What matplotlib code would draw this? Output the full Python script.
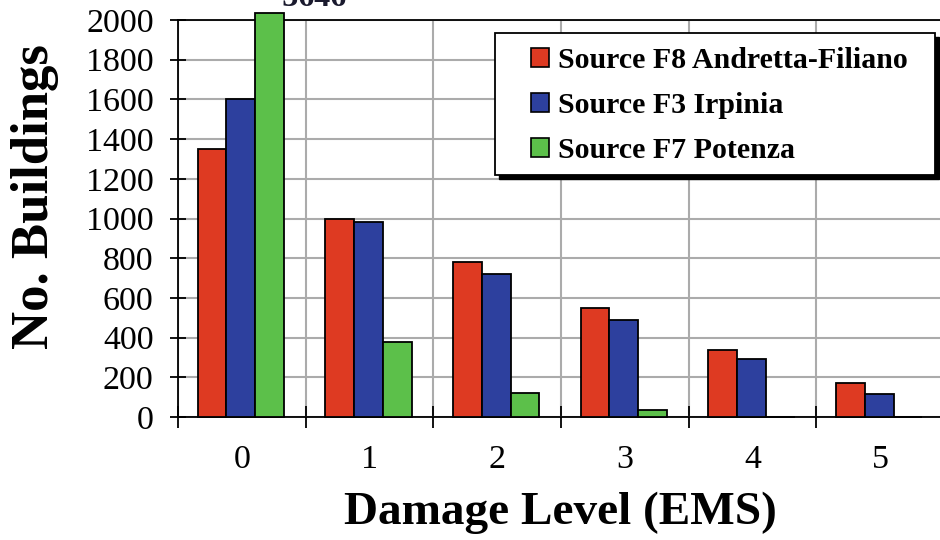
import numpy as np
import matplotlib
matplotlib.use("Agg")
import matplotlib.pyplot as plt
from matplotlib.patches import Rectangle, Patch

categories = [0, 1, 2, 3, 4, 5]
series_names = ["Source F8 Andretta-Filiano", "Source F3 Irpinia", "Source F7 Potenza"]
f8_vals = [1350, 1000, 780, 550, 340, 170]
f3_vals = [1600, 980, 720, 490, 290, 115]
f7_vals = [3646, 380, 120, 35, 0, 0]
y_ticks = [0, 200, 400, 600, 800, 1000, 1200, 1400, 1600, 1800, 2000]
overflow_label = "= 3646"

colors = ["#DE3A22", "#2D409E", "#5CC04A"]
YMAX = 2000
YCAP = 2035  # drawn height for the overflowing bar

plt.rcParams['font.family'] = ['Liberation Serif', 'DejaVu Serif']

fig = plt.figure(figsize=(9.4, 5.4), dpi=100)
W, H = 940, 540
ax = fig.add_axes([178 / W, 1 - 417 / H, 766 / W, 397 / H])

x = np.arange(len(categories))
width = 0.225
offsets = [-width, 0, width]
for vals, off, c in zip([f8_vals, f3_vals, f7_vals], offsets, colors):
    v = np.asarray(vals, dtype=float)
    disp = np.minimum(v, YCAP)
    ax.bar(x + off - 0.008, disp, width=width, color=c, edgecolor="black",
           linewidth=1.3, zorder=3, clip_on=False)

ax.set_xlim(-0.5, len(categories) - 0.5)
ax.set_ylim(0, YMAX)
ax.set_yticks(y_ticks)
ax.set_yticklabels([str(t) for t in y_ticks])
ax.set_xticks(x)
ax.set_xticklabels([str(c) for c in categories])
ax.set_xticks(np.arange(-0.5, len(categories), 1.0), minor=True)

ax.tick_params(axis='x', which='major', length=0, pad=20, labelsize=24.5)
ax.tick_params(axis='x', which='minor', direction='inout', length=16, width=1.3)
ax.tick_params(axis='y', which='major', direction='inout', length=11, width=1.3,
               pad=12, labelsize=24.5)

ax.grid(True, axis='y', which='major', color='#ababab', linewidth=1.5, zorder=0)
ax.grid(True, axis='x', which='minor', color='#ababab', linewidth=1.5, zorder=0)
ax.set_axisbelow(True)
for s in ax.spines.values():
    s.set_linewidth(1.3)
    s.set_color('black')

# overflow annotation (partially cut off at the top, as in the reference)
ax.text(0.11, 1 + 14 / 397, overflow_label, transform=ax.get_xaxis_transform(),
        ha='left', va='baseline', fontsize=23, fontweight='bold', color='#1a1a2e')

# axis labels
fig.text(35 / W, 1 - 197 / H, "No. Buildings", rotation=90, ha='center', va='center',
         fontsize=38, fontweight='bold')
fig.text(560 / W, 1 - 513 / H, "Damage Level (EMS)", ha='center', va='center',
         fontsize=34, fontweight='bold')

# legend box with hard shadow
bx0, by0, bx1, by1 = 495, 33, 935, 175
fig.patches.append(Rectangle(((bx0 + 4) / W, 1 - (by1 + 4) / H), (bx1 - bx0) / W,
                             (by1 - by0) / H, transform=fig.transFigure,
                             facecolor='black', edgecolor='black', zorder=4))
fig.patches.append(Rectangle((bx0 / W, 1 - by1 / H), (bx1 - bx0) / W, (by1 - by0) / H,
                             transform=fig.transFigure, facecolor='white',
                             edgecolor='black', linewidth=1.3, zorder=4.5))

handles = [Patch(facecolor=c, edgecolor='black', linewidth=1.2) for c in colors]
leg = fig.legend(handles, series_names, loc='upper left',
                 bbox_to_anchor=(531 / W, 1 - 47 / H), bbox_transform=fig.transFigure,
                 frameon=False, borderpad=0, borderaxespad=0,
                 handlelength=0.6, handleheight=0.6, handletextpad=0.3,
                 labelspacing=0.6, prop={'family': 'Liberation Serif',
                                         'weight': 'bold', 'size': 21.5})
leg.set_zorder(5)

fig.savefig("out.png", dpi=100)
